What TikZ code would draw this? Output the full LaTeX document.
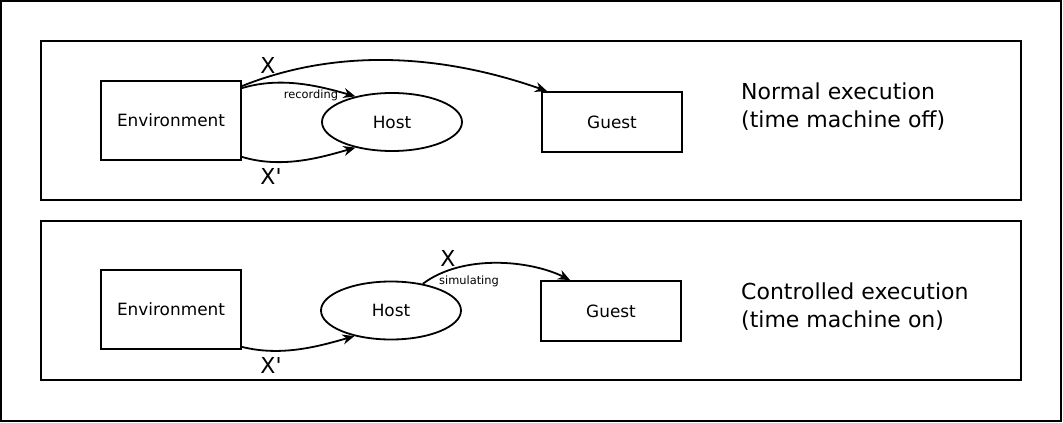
\documentclass[tikz,border=0pt]{standalone}
\usepackage{fontspec}
\setmainfont{DejaVu Sans}
\usetikzlibrary{arrows.meta,shapes.geometric}
\newcommand{\boxfont}{\fontsize{16.9}{20}\selectfont}
\newcommand{\bigfont}{\fontsize{22}{28}\selectfont}
\newcommand{\tinyfont}{\fontsize{11.4}{13}\selectfont}
\tikzset{kasten/.style={draw,line width=1.8pt,minimum width=140pt,inner sep=0,font=\boxfont},
  wirt/.style={draw,ellipse,line width=1.8pt,minimum width=140pt,minimum height=58pt,inner sep=0,font=\boxfont},
  rahmen/.style={line width=1.8pt},
  pfeil/.style={line width=1.8pt,-{Stealth[length=12pt,width=10pt]}},
  xlbl/.style={inner sep=0,font=\bigfont},
  klein/.style={inner sep=0,font=\tinyfont}}

\begin{document}
\begin{tikzpicture}[x=1pt,y=-1pt]
\useasboundingbox (0,0) rectangle (1063,423);
\draw[rahmen] (1,1) rectangle (1061,421);
% normal execution
\draw[rahmen] (41,41) rectangle (1021,200);
\node[kasten,minimum height=79pt] (env1) at (171,120.5) {Environment};
\node[wirt] (host1) at (392,122) {Host};
\node[kasten,minimum height=60pt] (guest1) at (612,122) {Guest};
\node[anchor=west,align=left,inner sep=0,font=\bigfont] (mode1) at (741,107) {Normal execution\\(time machine off)};
\draw[pfeil] ([yshift=-6pt]env1.north east) .. controls +(100,-40) and +(-100,-35) .. ([xshift=6pt]guest1.north west);
\draw[pfeil] ([yshift=-8pt]env1.north east) .. controls +(40,-12) and +(-35,-10) .. (host1.145);
\draw[pfeil] ([yshift=4pt]env1.south east) .. controls +(40,12) and +(-35,10) .. (host1.215);
\node[xlbl] (x1) at (268,65) {X};
\node[klein] (rec) at (311,95) {recording};
\node[xlbl] (xs1) at (271,176) {X\textquotesingle};
% controlled execution
\draw[rahmen] (41,221) rectangle (1021,380);
\node[kasten,minimum height=79pt] (env2) at (171,309.5) {Environment};
\node[wirt] (host2) at (391,310.5) {Host};
\node[kasten,minimum height=60pt] (guest2) at (611,311) {Guest};
\node[anchor=west,align=left,inner sep=0,font=\bigfont] (mode2) at (741,307) {Controlled execution\\(time machine on)};
\draw[pfeil] ([yshift=3pt]env2.south east) .. controls +(40,10) and +(-35,10) .. (host2.215);
\draw[pfeil] (host2.40) .. controls +(40,-30) and +(-40,-20) .. ([xshift=30pt]guest2.north west);
\node[xlbl] (x2) at (448,258) {X};
\node[klein] (sim) at (469,281) {simulating};
\node[xlbl] (xs2) at (271,365) {X\textquotesingle};
\end{tikzpicture}
\end{document}
